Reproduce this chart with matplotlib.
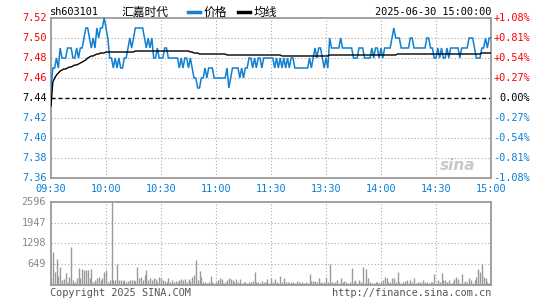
import numpy as np
import matplotlib
matplotlib.use("Agg")
import matplotlib.pyplot as plt

# intraday minute data, 09:30 -> 15:00 (241 points), prev close 7.44
pre_close = 7.44
price = [7.45, 7.47, 7.47, 7.48, 7.47, 7.49, 7.48, 7.48, 7.48, 7.49,
         7.49, 7.49, 7.48, 7.48, 7.49, 7.48, 7.49, 7.49, 7.50, 7.51,
         7.51, 7.50, 7.49, 7.50, 7.49, 7.51, 7.50, 7.51, 7.51, 7.52,
         7.51, 7.50, 7.48, 7.48, 7.47, 7.48, 7.47, 7.48, 7.47, 7.47,
         7.48, 7.48, 7.49, 7.50, 7.49, 7.50, 7.51, 7.51, 7.51, 7.51,
         7.51, 7.50, 7.49, 7.50, 7.49, 7.50, 7.48, 7.48, 7.49, 7.48,
         7.48, 7.48, 7.49, 7.49, 7.48, 7.48, 7.48, 7.48, 7.48, 7.48,
         7.47, 7.48, 7.47, 7.48, 7.48, 7.47, 7.48, 7.47, 7.46, 7.46,
         7.45, 7.45, 7.46, 7.46, 7.47, 7.46, 7.47, 7.47, 7.47, 7.46,
         7.46, 7.46, 7.46, 7.46, 7.46, 7.46, 7.47, 7.45, 7.46, 7.47,
         7.47, 7.47, 7.47, 7.46, 7.47, 7.46, 7.47, 7.47, 7.48, 7.48,
         7.47, 7.48, 7.47, 7.48, 7.48, 7.47, 7.48, 7.48, 7.48, 7.48,
         7.48, 7.48, 7.47, 7.48, 7.47, 7.48, 7.47, 7.48, 7.47, 7.48,
         7.47, 7.48, 7.48, 7.47, 7.47, 7.47, 7.47, 7.47, 7.47, 7.47,
         7.47, 7.48, 7.47, 7.48, 7.49, 7.48, 7.49, 7.49, 7.48, 7.47,
         7.48, 7.47, 7.50, 7.49, 7.49, 7.49, 7.49, 7.49, 7.50, 7.49,
         7.49, 7.49, 7.49, 7.49, 7.49, 7.48, 7.48, 7.48, 7.49, 7.49,
         7.49, 7.48, 7.48, 7.48, 7.48, 7.49, 7.48, 7.49, 7.49, 7.48,
         7.49, 7.48, 7.49, 7.49, 7.49, 7.49, 7.50, 7.51, 7.50, 7.50,
         7.50, 7.49, 7.49, 7.49, 7.49, 7.49, 7.50, 7.50, 7.49, 7.49,
         7.49, 7.49, 7.49, 7.49, 7.49, 7.50, 7.50, 7.49, 7.49, 7.48,
         7.48, 7.49, 7.48, 7.49, 7.48, 7.48, 7.49, 7.48, 7.49, 7.49,
         7.49, 7.49, 7.49, 7.48, 7.49, 7.49, 7.49, 7.49, 7.50, 7.50,
         7.50, 7.49, 7.48, 7.48, 7.48, 7.49, 7.49, 7.50, 7.49, 7.50,
         7.50]

avg = ([7.432, 7.456, 7.460, 7.463, 7.465, 7.467, 7.468, 7.469, 7.469, 7.470,
        7.471, 7.471, 7.472, 7.473, 7.473, 7.474, 7.475, 7.476, 7.477, 7.478,
        7.480, 7.481, 7.482, 7.482, 7.483, 7.484, 7.484, 7.485, 7.485, 7.485,
        7.486]
       + [7.486] * 15 + [7.487] * 30
       + [7.486, 7.486, 7.485, 7.485, 7.485]
       + [7.484] * 15 + [7.483] * 30
       + [7.482] * 26 + [7.483] * 37
       + [7.484] * 46 + [7.485] * 6)

volume = [210, 1040, 415, 810, 280, 570, 150, 200, 385, 100,
          260, 1195, 150, 100, 210, 540, 210, 500, 470, 470,
          470, 210, 500, 100, 150, 210, 240, 150, 210, 390,
          470, 100, 150, 2596, 160, 150, 650, 150, 150, 120,
          160, 100, 120, 150, 150, 160, 120, 570, 210, 240,
          150, 320, 470, 150, 210, 150, 210, 180, 100, 240,
          210, 150, 120, 100, 210, 100, 150, 80, 120, 100,
          150, 180, 150, 180, 100, 180, 120, 240, 310, 780,
          150, 450, 240, 100, 80, 60, 100, 280, 80, 60,
          100, 150, 210, 180, 60, 100, 150, 210, 180, 150,
          100, 180, 80, 180, 60, 80, 100, 60, 100, 80,
          120, 415, 100, 80, 60, 120, 80, 100, 180, 60,
          210, 100, 180, 80, 60, 280, 100, 220, 80, 100,
          60, 80, 100, 60, 120, 80, 60, 100, 60, 80,
          60, 340, 120, 120, 120, 80, 220, 100, 60, 80,
          220, 100, 650, 80, 60, 100, 160, 60, 220, 80,
          120, 100, 60, 100, 530, 80, 150, 60, 150, 100,
          560, 60, 500, 220, 80, 60, 50, 100, 80, 60,
          100, 160, 260, 220, 100, 80, 220, 220, 100, 390,
          80, 60, 100, 120, 160, 60, 150, 80, 210, 60,
          100, 80, 60, 150, 80, 100, 60, 80, 100, 340,
          60, 160, 80, 380, 160, 160, 100, 160, 60, 100,
          200, 250, 180, 60, 340, 60, 120, 80, 220, 150,
          60, 160, 260, 500, 415, 650, 260, 210, 80, 60,
          100]

time_labels = ["09:30", "10:00", "10:30", "11:00", "11:30",
               "13:30", "14:00", "14:30", "15:00"]
price_ticks = [7.52, 7.50, 7.48, 7.46, 7.44, 7.42, 7.40, 7.38, 7.36]
pct_labels = ["+1.08%", "+0.81%", "+0.54%", "+0.27%", "0.00%",
              "-0.27%", "-0.54%", "-0.81%", "-1.08%"]
vol_ticks = [649, 1298, 1947, 2596]

RED = "#ff0000"
BLUE = "#0a80d8"
GRID = "#aaaaaa"
SPINE = "#999999"
mono = "DejaVu Sans Mono"
fs = 7.4

x = np.arange(len(price))
xt = np.arange(0, 241, 30)

fig = plt.figure(figsize=(5.45, 3.0), dpi=100)
ax = fig.add_axes([51/545, 122/300, 440/545, 160/300])
axv = fig.add_axes([51/545, 15/300, 440/545, 83.3/300])

# ---- price panel
ax.set_xlim(0, 240)
ax.set_ylim(7.36, 7.52)
for p in price_ticks[1:-1]:
    if abs(p - pre_close) < 1e-9:
        ax.axhline(p, color="black", lw=1.0, ls=(0, (3, 2)), zorder=1)
    else:
        ax.axhline(p, color=GRID, lw=0.8, ls=(0, (1, 2)), zorder=1)
for t in xt[1:-1]:
    ax.axvline(t, color=GRID, lw=0.8, ls=(0, (1, 2)), zorder=1)
ax.plot(x, price, color="#1080d0", lw=1.1, zorder=3, solid_joinstyle="miter")
ax.plot(x, avg, color="black", lw=1.0, zorder=4)
ax.set_xticks([])
ax.set_yticks([])
for s in ax.spines.values():
    s.set_color(SPINE)
    s.set_linewidth(1.3)

for p, lab in zip(price_ticks, pct_labels):
    c = RED if p > pre_close + 1e-9 else ("black" if abs(p - pre_close) < 1e-9 else BLUE)
    ax.text(-4/440*240, p, "%.2f" % p, ha="right", va="center", color=c,
            fontsize=fs, family=mono)
    ax.text(240 + 39/440*240, p, lab, ha="right", va="center", color=c,
            fontsize=fs, family=mono)

for t, lab in zip(xt, time_labels):
    ax.text(t, 7.36 - 0.0105, lab, ha="center", va="center", color=BLUE,
            fontsize=fs, family=mono)

# header
fig.text(50/545, 1 - 12/300, "sh603101", ha="left", va="center",
         fontsize=fs, family=mono, color="black")
fig.text(121/545, 1 - 12/300, "汇嘉时代", ha="left", va="center",
         fontsize=8.5, family=["Noto Sans CJK SC", "DejaVu Sans"], color="black")
fig.add_artist(plt.Line2D([188/545, 200/545], [1 - 12/300] * 2,
                          color="#1080d0", lw=2.5))
fig.text(204/545, 1 - 12/300, "价格", ha="left", va="center",
         fontsize=8.5, family=["Noto Sans CJK SC", "DejaVu Sans"], color="black")
fig.add_artist(plt.Line2D([238/545, 250/545], [1 - 12/300] * 2,
                          color="black", lw=2.5))
fig.text(254/545, 1 - 12/300, "均线", ha="left", va="center",
         fontsize=8.5, family=["Noto Sans CJK SC", "DejaVu Sans"], color="black")
fig.text(491/545, 1 - 12/300, "2025-06-30 15:00:00", ha="right", va="center",
         fontsize=fs, family=mono, color="black")

# sina watermark
ax.text(0.965, 0.08, "sina", transform=ax.transAxes, ha="right", va="center",
        fontsize=11, fontweight="bold", style="italic", color="#c8c8c8", zorder=0)

# ---- volume panel
axv.set_xlim(0, 240)
axv.set_ylim(0, 2596)
for v in vol_ticks[:-1]:
    axv.axhline(v, color=GRID, lw=0.8, ls=(0, (1, 2)), zorder=1)
for t in xt[1:-1]:
    axv.axvline(t, color=GRID, lw=0.8, ls=(0, (1, 2)), zorder=1)
axv.vlines(x, 0, volume, color="#999999", lw=1.0, zorder=3)
axv.set_xticks([])
axv.set_yticks([])
for s in axv.spines.values():
    s.set_color(SPINE)
    s.set_linewidth(1.3)
for v in vol_ticks:
    axv.text(-5/440*240, v, str(v), ha="right", va="center", color="#888888",
             fontsize=fs, family=mono)

fig.text(50/545, 1 - 293/300, "Copyright 2025 SINA.COM", ha="left", va="center",
         fontsize=fs, family=mono, color="#555555")
fig.text(491/545, 1 - 293/300, "http://finance.sina.com.cn", ha="right",
         va="center", fontsize=fs, family=mono, color="#555555")

fig.savefig("out.png", dpi=100, facecolor="white")
